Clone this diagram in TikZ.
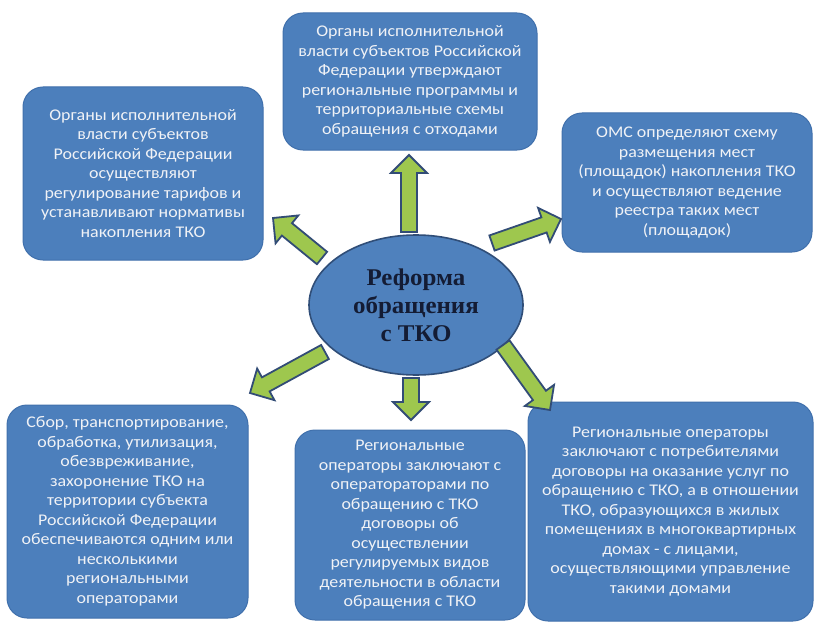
\documentclass[tikz,border=0pt]{standalone}
\usepackage{fontspec}
\setmainfont[FakeStretch=1.1]{Carlito}
\newfontfamily\centerfont[FakeStretch=1.04]{Liberation Serif}
\usetikzlibrary{calc,shapes.geometric}
\definecolor{boxblue}{RGB}{76,127,188}
\definecolor{boxedge}{RGB}{64,112,172}
\definecolor{ellblue}{RGB}{79,129,189}
\definecolor{elledge}{RGB}{48,78,120}
\definecolor{arrgreen}{RGB}{158,199,78}
\definecolor{arredge}{RGB}{50,76,118}
\definecolor{boxtext}{RGB}{240,242,246}
\definecolor{centertext}{RGB}{20,28,52}
\tikzset{
  infobox/.style={rectangle, rounded corners=20pt, fill=boxblue, draw=boxedge, line width=1pt,
    text=boxtext, align=center, inner sep=0pt,
    font=\fontsize{16.3}{19.5}\selectfont},
  hub/.style={ellipse, fill=ellblue, draw=elledge, line width=1.6pt, text=centertext,
    align=center, inner sep=0pt, font=\centerfont\bfseries\fontsize{24}{28}\selectfont},
  blockarr/.style={fill=arrgreen, draw=arredge, line width=1.8pt, line join=miter}
}
\newcommand\blockarrow[2]{%
  \coordinate (hb) at ($(#2)!18pt!(#1)$);
  \draw[blockarr] ($(#1)!8pt!90:(#2)$) -- ($(hb)!8pt!-90:(#1)$) -- ($(hb)!18pt!-90:(#1)$) -- (#2)
    -- ($(hb)!18pt!90:(#1)$) -- ($(hb)!8pt!90:(#1)$) -- ($(#1)!8pt!-90:(#2)$) -- cycle;
}
\begin{document}
\begin{tikzpicture}[x=1pt,y=-1pt]
\useasboundingbox (0,0) rectangle (816,623);
\fill[white] (0,0) rectangle (816,623);

\node[infobox, minimum width=254pt, minimum height=137pt] (top) at (410,81.5)
  {Органы исполнительной\\власти субъектов Российской\\Федерации утверждают\\региональные программы и\\территориальные схемы\\обращения с отходами};
\node[infobox, minimum width=240pt, minimum height=173pt] (tl) at (143,173.5)
  {Органы исполнительной\\власти субъектов\\Российской Федерации\\осуществляют\\регулирование тарифов и\\устанавливают нормативы\\накопления ТКО};
\node[infobox, minimum width=250pt, minimum height=139pt] (tr) at (687,182.5)
  {ОМС определяют схему\\размещения мест\\(площадок) накопления ТКО\\и осуществляют ведение\\реестра таких мест\\(площадок)};
\node[infobox, minimum width=241pt, minimum height=213pt] (bl) at (127.5,511.5)
  {Сбор, транспортирование,\\обработка, утилизация,\\обезвреживание,\\захоронение ТКО на\\территории субъекта\\Российской Федерации\\обеспечиваются одним или\\несколькими\\региональными\\операторами};
\node[infobox, minimum width=230pt, minimum height=190pt] (bm) at (410,525)
  {Региональные\\операторы заключают с\\оператораторами по\\обращению с ТКО\\договоры об\\осуществлении\\регулируемых видов\\деятельности в области\\обращения с ТКО};
\node[infobox, minimum width=285pt, minimum height=219pt] (br) at (670.5,511.5)
  {Региональные операторы\\заключают с потребителями\\договоры на оказание услуг по\\обращению с ТКО, а в отношении\\ТКО, образующихся в жилых\\помещениях в многоквартирных\\домах - с лицами,\\осуществляющими управление\\такими домами};

\node[hub, minimum width=214pt, minimum height=140pt] (hub) at (416,305)
  {Реформа\\обращения\\с ТКО};

\coordinate (aUpT) at (409,232);   \coordinate (aUpH) at (409,155);
\coordinate (aULT) at (322,258);   \coordinate (aULH) at (273,218);
\coordinate (aURT) at (492,243);   \coordinate (aURH) at (561,219);
\coordinate (aDLT) at (325,352);   \coordinate (aDLH) at (250,393);
\coordinate (aDT) at (411,378);    \coordinate (aDH) at (411,420);
\coordinate (aDRT) at (503,345);   \coordinate (aDRH) at (550,410);

\blockarrow{aUpT}{aUpH}
\blockarrow{aULT}{aULH}
\blockarrow{aURT}{aURH}
\blockarrow{aDLT}{aDLH}
\blockarrow{aDT}{aDH}
\blockarrow{aDRT}{aDRH}
\end{tikzpicture}
\end{document}
